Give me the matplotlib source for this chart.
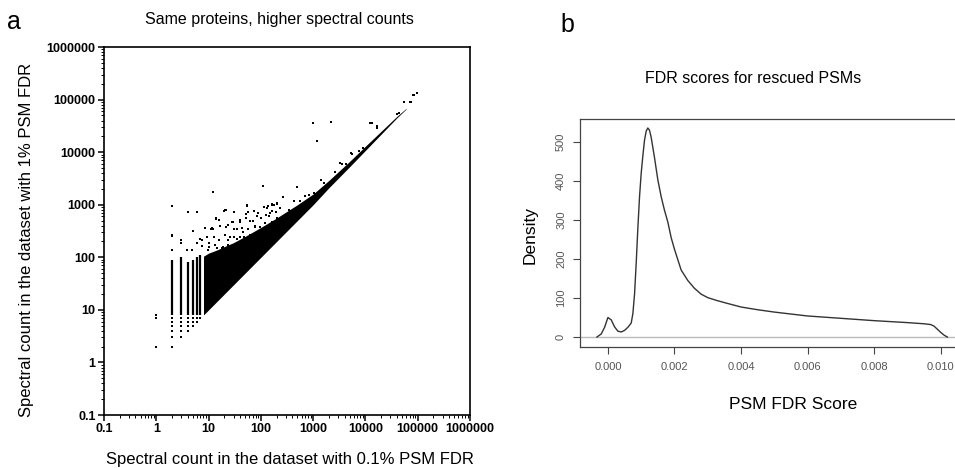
import matplotlib
matplotlib.use('Agg')
import matplotlib.pyplot as plt
from matplotlib.ticker import LogLocator, FixedLocator, NullFormatter

plt.rcParams['font.family'] = ['Liberation Sans', 'DejaVu Sans']

# ---- panel a data ----
# single spectral count 1 proteins
one_x = [1, 1, 1]
one_y = [2, 7, 8]

# discrete low points of the small-count columns
low_x = [2, 2, 2, 2, 2, 2, 3, 3, 3, 3, 3, 4, 4, 4, 4, 5, 5, 5, 6, 6, 7]
low_y = [2, 3, 4, 5, 6, 7, 3, 4, 5, 6, 7, 4, 5, 6, 7, 5, 6, 7, 6, 7, 7]

# merged part of the columns (x, from, to)
col_x = [2, 3, 4, 5, 6, 7]
col_lo = [8, 8, 8, 8, 8, 8]
col_hi = [90, 100, 83, 90, 100, 110]

# dense band envelope
band_x = [8, 10, 15, 20, 30, 50, 100, 200, 500, 1000, 2000, 5000, 10000, 20000, 40000, 60000]
band_lo = [8, 10, 15, 20, 30, 50, 100, 200, 500, 1000, 2100, 5300, 10800, 22000, 45000, 66000]
band_hi = [105, 120, 140, 160, 190, 250, 370, 560, 1000, 1600, 2900, 6700, 13000, 25000, 48000, 68000]

# scattered points outside the dense band
out_x = [2, 2, 2, 2, 3, 3, 3.9, 4.1, 4.9, 5.1, 6, 6.1, 7.6, 9.9, 10.3, 11.3, 12.3, 12.3,
         14, 14.6, 15.5, 16.7, 19, 20, 21, 21.5, 24, 24, 28, 30, 30, 31, 35, 40, 40, 46,
         52, 55, 55, 57, 71, 79, 85, 112, 116, 132, 140, 145, 165, 165, 175, 200, 270,
         500, 1000, 1200, 1420, 2200, 3300, 3600, 5300, 5600, 12500, 13500, 16500, 16500,
         40000, 44000, 55000, 70000, 75000, 80000, 85000, 98000,
         73, 90, 167, 203, 235, 191, 14, 29, 40, 51, 63, 102, 125, 151, 340, 435, 570, 710,
         820, 1020, 8.6, 11.6, 16.7, 22, 30, 43, 58, 78, 97, 121, 163, 203, 272,
         6.9, 9.3, 12.5, 15.6, 21, 26, 35, 47, 63, 82, 113, 7.5, 10, 13.4, 18, 24, 32,
         1600, 2600, 4200, 7500, 9000]
out_y = [960, 270, 250, 135, 210, 190, 140, 740, 135, 310, 190, 720, 210, 140, 190, 340, 1780, 350,
         550, 150, 520, 130, 160, 750, 780, 800, 420, 210, 480, 720, 240, 720, 340, 240, 480, 300,
         680, 1000, 960, 720, 500, 380, 620, 2300, 920, 880, 960, 600, 1050, 750, 1000, 1050, 1430,
         2200, 36500, 16600, 3000, 38000, 6300, 6000, 9800, 9400, 36500, 36500, 32000, 29000,
         54000, 56000, 91000, 90000, 92000, 125000, 120000, 136000,
         750, 700, 970, 1090, 875, 730, 540, 480, 520, 560, 500, 560, 650, 700, 810, 1200, 1180, 1450,
         1560, 1660, 365, 365, 400, 380, 340, 365, 340, 400, 380, 450, 480, 560, 605,
         225, 245, 245, 218, 260, 245, 225, 245, 270, 290, 295, 163, 160, 175, 152, 175, 163,
         2600, 4200, 6000, 10500, 12000]

# ---- panel b data (density curve) ----
fdr_x = [-0.00033, -0.0002, -0.0001, 0.0, 0.0001, 0.0002, 0.0003, 0.0004, 0.0005, 0.0006,
         0.0007, 0.00075, 0.0008, 0.00085, 0.0009, 0.00095, 0.001, 0.00105, 0.0011, 0.00115,
         0.0012, 0.00125, 0.0013, 0.0014, 0.0015, 0.0016, 0.0017, 0.0018, 0.0019, 0.002,
         0.0022, 0.0024, 0.0026, 0.0028, 0.003, 0.0033, 0.0036, 0.004, 0.0045, 0.005,
         0.006, 0.007, 0.008, 0.009, 0.0095, 0.0097, 0.0098, 0.0099, 0.01, 0.0101, 0.0102]
fdr_density = [0, 8, 25, 50, 44, 26, 15, 13, 17, 25,
               36, 60, 110, 190, 280, 360, 420, 465, 505, 528,
               536, 530, 512, 460, 403, 360, 325, 295, 255, 225,
               172, 145, 125, 110, 101, 93, 86, 77, 70, 64,
               54, 48, 42, 37, 34, 32, 28, 20, 12, 5, 0]
fdr_ticks = [0.000, 0.002, 0.004, 0.006, 0.008, 0.010]
dens_ticks = [0, 100, 200, 300, 400, 500]

fig = plt.figure(figsize=(9.55, 4.68), dpi=100)

# ---------------- panel a ----------------
ax1 = fig.add_axes([0.1089, 0.1132, 0.3832, 0.7863])
ax1.set_xscale('log')
ax1.set_yscale('log')
ax1.fill_between(band_x, band_lo, band_hi, color='black', linewidth=0)
ax1.vlines(col_x, col_lo, col_hi, color='black', linewidth=1.6)
ax1.plot(low_x, low_y, 's', color='black', ms=1.6, mew=0)
ax1.plot(one_x, one_y, 's', color='black', ms=1.9, mew=0)
ax1.plot(out_x, out_y, 's', color='black', ms=1.9, mew=0)
ax1.set_xlim(0.1, 1000000)
ax1.set_ylim(0.1, 1000000)

ticks = [0.1, 1, 10, 100, 1000, 10000, 100000, 1000000]
labels = ['0.1', '1', '10', '100', '1000', '10000', '100000', '1000000']
ax1.xaxis.set_major_locator(FixedLocator(ticks))
ax1.yaxis.set_major_locator(FixedLocator(ticks))
ax1.set_xticklabels(labels, fontweight='bold', fontsize=9)
ax1.set_yticklabels(labels, fontweight='bold', fontsize=9)
ax1.xaxis.set_minor_locator(LogLocator(base=10, subs=range(2, 10), numticks=20))
ax1.yaxis.set_minor_locator(LogLocator(base=10, subs=range(2, 10), numticks=20))
ax1.xaxis.set_minor_formatter(NullFormatter())
ax1.yaxis.set_minor_formatter(NullFormatter())
ax1.tick_params(which='major', direction='out', length=4, width=1.1, pad=2)
ax1.tick_params(which='minor', direction='out', length=2, width=0.7)
for s in ax1.spines.values():
    s.set_linewidth(1.2)

fig.text(0.293, 0.959, 'Same proteins, higher spectral counts', ha='center', va='center', fontsize=11.5)
fig.text(0.304, 0.019, 'Spectral count in the dataset with 0.1% PSM FDR', ha='center', va='center', fontsize=12)
fig.text(0.028, 0.487, 'Spectral count in the dataset with 1% PSM FDR', ha='center', va='center',
         rotation=90, fontsize=12)
fig.text(0.015, 0.953, 'a', ha='center', va='center', fontsize=18)

# ---------------- panel b ----------------
ax2 = fig.add_axes([0.6073, 0.2585, 0.4021, 0.4872])
ax2.axhline(0, color='#bbbbbb', linewidth=1)
ax2.plot(fdr_x, fdr_density, color='#333333', linewidth=1)
ax2.set_xlim(-0.00084, 0.0107)
ax2.set_ylim(-25.6, 559)
ax2.xaxis.set_major_locator(FixedLocator(fdr_ticks))
ax2.yaxis.set_major_locator(FixedLocator(dens_ticks))
ax2.set_xticklabels(['%.3f' % t for t in fdr_ticks], fontsize=8, color='#555555')
ax2.set_yticklabels([str(t) for t in dens_ticks], fontsize=8, color='#555555',
                    rotation=90, va='center')
ax2.tick_params(direction='out', length=5, width=0.8, color='#444444')
ax2.tick_params(axis='x', pad=6)
ax2.tick_params(axis='y', pad=5)
for s in ax2.spines.values():
    s.set_linewidth(0.9)
    s.set_color('#444444')

fig.text(0.7885, 0.833, 'FDR scores for rescued PSMs', ha='center', va='center', fontsize=11.5)
fig.text(0.830, 0.135, 'PSM FDR Score', ha='center', va='center', fontsize=12.5)
fig.text(0.555, 0.498, 'Density', ha='center', va='center', rotation=90, fontsize=12.5)
fig.text(0.594, 0.947, 'b', ha='center', va='center', fontsize=18)

fig.savefig('out.png', dpi=100)
